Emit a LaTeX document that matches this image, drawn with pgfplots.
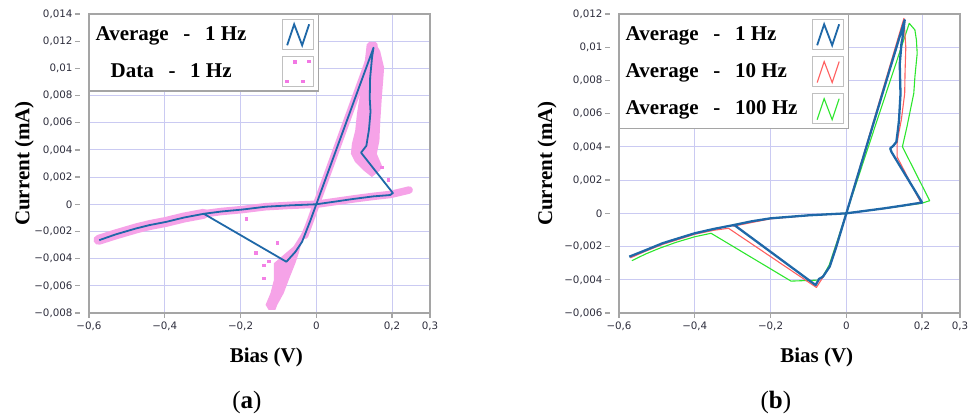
\documentclass[border=0pt]{standalone}
\usepackage{fontspec}
\setmainfont{Liberation Serif}
\newfontfamily\ticksans{DejaVu Sans}
\usepackage{pgfplots}
\pgfplotsset{compat=1.18}

\definecolor{avgblue}{RGB}{31,104,168}
\definecolor{datapink}{RGB}{246,163,232}
\definecolor{dotpink}{RGB}{242,120,228}
\definecolor{gridlav}{RGB}{202,202,242}
\definecolor{framegray}{RGB}{165,165,165}
\definecolor{avgred}{RGB}{255,95,95}
\definecolor{avggreen}{RGB}{45,230,45}
\definecolor{ticktext}{RGB}{45,45,60}

\newcommand{\entry}[2]{#1\hspace{0.7em}-\hspace{0.7em}#2 Hz}

\pgfplotsset{
  zigzag legend/.style={legend image code/.code={
      \draw[framegray!70, line width=1.2pt, solid, fill=white] (0pt,-15pt) rectangle (31pt,15pt);
      \draw[##1] (5pt,-11pt) -- (12pt,10pt) -- (20pt,-11pt) -- (27pt,10pt);}},
  dots legend/.style={legend image code/.code={
      \draw[framegray!70, line width=1.2pt, solid, fill=white] (0pt,-15pt) rectangle (31pt,15pt);
      \fill[dotpink] (11.5pt,8.5pt) rectangle +(2.2pt,2.2pt);
      \fill[dotpink] (26pt,9pt) rectangle +(2.2pt,2.2pt);
      \fill[dotpink] (3.5pt,-11pt) rectangle +(2.2pt,2.2pt);
      \fill[dotpink] (19.5pt,-11pt) rectangle +(2.2pt,2.2pt);}},
  ivpanel/.style={
    scale only axis, width=341pt, height=299pt,
    clip=false,
    scaled y ticks=false, scaled x ticks=false,
    axis line style={framegray, line width=1.6pt},
    grid=major,
    major grid style={gridlav, line width=1.1pt},
    tick align=outside,
    major tick length=5pt,
    xtick pos=bottom, ytick pos=left,
    every tick/.style={framegray, line width=1.3pt},
    ytick style={xshift=-9pt},
    tick label style={font=\ticksans\fontsize{10.3}{12}\selectfont, text=ticktext},
    yticklabel style={xshift=-8pt},
    xlabel={Bias (V)}, ylabel={Current (mA)},
    label style={font=\bfseries\fontsize{21}{24}\selectfont},
    xmin=-0.6, xmax=0.3,
    xtick={-0.6,-0.4,-0.2,0,0.2,0.3},
    xticklabels={{−0,6},{−0,4},{−0,2},0,{0,2},{0,3}},
    legend plot pos=right,
    legend style={at={(0,1)}, anchor=north west, draw=framegray, line width=1.4pt,
      fill=white, font=\bfseries\fontsize{21}{23}\selectfont,
      inner xsep=5pt, inner ysep=4pt, row sep=6pt, nodes={inner sep=1pt}},
  },
}

\begin{document}
\begin{tikzpicture}
\useasboundingbox (0,0) rectangle (971pt,418pt);

% ---------------- (a) measured data and its average, 1 Hz ----------------
\begin{axis}[ivpanel,
  at={(89pt,105pt)}, anchor=south west,
  ymin=-0.008, ymax=0.014,
  ytick={-0.008,-0.006,-0.004,-0.002,0,0.002,0.004,0.006,0.008,0.01,0.012,0.014},
  yticklabels={{−0,008},{−0,006},{−0,004},{−0,002},0,{0,002},{0,004},{0,006},{0,008},{0,01},{0,012},{0,014}},
  ylabel style={at={(axis description cs:-0.19,0.5)}, anchor=center},
  xlabel style={at={(axis description cs:0.52,-0.167)}, anchor=base},
  legend cell align=center,
  legend style={column sep=34pt},
]
\addlegendimage{avgblue, line width=1.8pt, zigzag legend}
\addlegendentry{\entry{Average}{1}}
\addlegendimage{dots legend}
\addlegendentry{\entry{Data}{1}}

% scattered samples: the dense band
\addplot[forget plot, datapink, line width=10pt, line cap=round, line join=round] coordinates {
  (-0.575,-0.00262) (-0.53,-0.00222) (-0.476,-0.00178) (-0.44,-0.00153)
  (-0.397,-0.0013) (-0.35,-0.00098) (-0.297,-0.0007)
};
\addplot[forget plot, datapink, line width=7.5pt, line cap=round, line join=round] coordinates {
  (-0.297,-0.0007) (-0.25,-0.00053) (-0.196,-0.00039) (-0.134,-0.00018)
  (-0.07,-0.00008) (0,0) (0.05,0.0002) (0.1,0.0004) (0.15,0.00058)
  (0.195,0.00072) (0.22,0.00088) (0.245,0.00105)
};
\addplot[forget plot, datapink, line width=7pt, line cap=round] coordinates {
  (-0.03,-0.0023) (0.153,0.0117)
};
\addplot[forget plot, fill=datapink, draw=none] coordinates {
  (0.1403,0.01196) (0.1553,0.01189) (0.1684,0.01128) (0.1789,0.01006)
  (0.1771,0.00933) (0.1729,0.00786) (0.1684,0.00591) (0.1666,0.00469)
  (0.1597,0.00371) (0.1729,0.00286) (0.1684,0.00249) (0.1466,0.0020)
  (0.1245,0.00249) (0.1026,0.0031) (0.0913,0.00371) (0.0939,0.00445)
  (0.1026,0.00542) (0.1071,0.00664) (0.1139,0.00786) (0.1225,0.00933)
  (0.1290,0.01079) (0.133,0.01177)
} -- cycle;
\addplot[forget plot, fill=datapink, draw=none] coordinates {
  (-0.02,-0.0012) (-0.035,-0.0024) (-0.0465,-0.0036) (-0.0553,-0.00434)
  (-0.0729,-0.00557) (-0.086,-0.00654) (-0.103,-0.0074) (-0.108,-0.00777)
  (-0.126,-0.00777) (-0.134,-0.0074) (-0.121,-0.00654) (-0.112,-0.00557)
  (-0.112,-0.00434) (-0.0816,-0.00361) (-0.06,-0.0031) (-0.04,-0.0022)
  (-0.025,-0.0013)
} -- cycle;
\addplot[forget plot, only marks, mark=square*, mark size=1.3pt, dotpink!80!datapink] coordinates {
  (-0.139,-0.00447) (-0.139,-0.00544) (-0.16,-0.00357) (-0.103,-0.00283)
  (-0.185,-0.00108) (0.173,0.00273) (-0.125,-0.0042) (0.19,0.0018)
};

% running average
\addplot[forget plot, avgblue, line width=1.8pt, line join=round] coordinates {
  (-0.573,-0.00264) (-0.53,-0.00222) (-0.476,-0.00178) (-0.44,-0.00153)
  (-0.397,-0.0013) (-0.35,-0.00098) (-0.297,-0.0007) (-0.25,-0.00053)
  (-0.196,-0.00039) (-0.134,-0.00018) (-0.07,-0.00008) (0,0)
  (0.05,0.0002) (0.1,0.0004) (0.15,0.00058) (0.195,0.00068) (0.202,0.00083)
  (0.118,0.0038) (0.132,0.0043) (0.139,0.0055) (0.143,0.0068) (0.141,0.0078)
  (0.142,0.0093) (0.147,0.0108) (0.151,0.01152)
  (-0.0158,-0.0012) (-0.0376,-0.00276) (-0.0553,-0.0035) (-0.079,-0.00423)
  (-0.297,-0.0007)
};
\node[anchor=base, font=\fontsize{25}{28}\selectfont] at (axis description cs:0.463,-0.318) {(\textbf{a})};
\end{axis}

% ---------------- (b) averages at three frequencies ----------------
\begin{axis}[ivpanel,
  at={(619pt,105pt)}, anchor=south west,
  ymin=-0.006, ymax=0.012,
  ytick={-0.006,-0.004,-0.002,0,0.002,0.004,0.006,0.008,0.01,0.012},
  yticklabels={{−0,006},{−0,004},{−0,002},0,{0,002},{0,004},{0,006},{0,008},{0,01},{0,012}},
  ylabel style={at={(axis description cs:-0.211,0.5)}, anchor=center},
  xlabel style={at={(axis description cs:0.58,-0.167)}, anchor=base},
  legend cell align=left,
  legend style={column sep=13pt},
]
\addlegendimage{avgblue, line width=1.8pt, zigzag legend}
\addlegendentry{\entry{Average}{1}}
\addlegendimage{avgred, line width=1.1pt, zigzag legend}
\addlegendentry{\entry{Average}{10}}
\addlegendimage{avggreen, line width=1.1pt, zigzag legend}
\addlegendentry{\entry{Average}{100}}

% 100 Hz
\addplot[forget plot, avggreen, line width=1.1pt, line join=round] coordinates {
  (-0.566,-0.00285) (-0.53,-0.00245) (-0.494,-0.00211) (-0.45,-0.00175)
  (-0.4,-0.00141) (-0.357,-0.0012) (-0.146,-0.00408) (-0.075,-0.00402)
  (-0.062,-0.0038) (-0.045,-0.0031) (0,0) (0.166,0.01144) (0.181,0.01104)
  (0.185,0.01043) (0.187,0.00963) (0.181,0.00822) (0.178,0.00722)
  (0.169,0.00622) (0.160,0.00521) (0.148,0.00401) (0.220,0.00076)
  (0.198,0.0006) (0.1,0.0003) (0,0) (-0.1,-0.00012) (-0.2,-0.0003) (-0.3,-0.0007)
};
% 10 Hz
\addplot[forget plot, avgred, line width=1.1pt, line join=round] coordinates {
  (-0.570,-0.00268) (-0.53,-0.00228) (-0.485,-0.00187) (-0.44,-0.00155)
  (-0.4,-0.00126) (-0.35,-0.00102) (-0.311,-0.0009) (-0.079,-0.00446)
  (-0.066,-0.0040) (-0.044,-0.0032) (0,0) (0.152,0.01174) (0.157,0.0100)
  (0.155,0.0085) (0.154,0.0072) (0.145,0.0056) (0.138,0.0048) (0.134,0.0042)
  (0.134,0.0034) (0.197,0.00062) (0.1,0.00029) (0,0) (-0.1,-0.00013)
  (-0.2,-0.00033) (-0.3,-0.00078)
};
% 1 Hz
\addplot[forget plot, avgblue, line width=2.3pt, line join=round] coordinates {
  (-0.573,-0.00261) (-0.53,-0.00222) (-0.485,-0.0018) (-0.44,-0.00148)
  (-0.4,-0.0012) (-0.35,-0.00094) (-0.296,-0.0007) (-0.081,-0.00432)
  (-0.072,-0.00395) (-0.062,-0.00382) (-0.044,-0.00321) (-0.0265,-0.00201)
  (0,0) (0.154,0.01164) (0.148,0.0105) (0.1455,0.01023) (0.141,0.0090)
  (0.142,0.0080) (0.143,0.0072) (0.139,0.0056) (0.136,0.0050) (0.132,0.0043)
  (0.125,0.0041) (0.116,0.0039) (0.119,0.0037) (0.200,0.00065)
  (0.15,0.00047) (0.1,0.0003) (0.05,0.00015) (0,0) (-0.1,-0.00012)
  (-0.2,-0.0003) (-0.25,-0.00048) (-0.296,-0.0007)
};
\node[anchor=base, font=\fontsize{25}{28}\selectfont] at (axis description cs:0.46,-0.318) {(\textbf{b})};
\end{axis}
\end{tikzpicture}
\end{document}
